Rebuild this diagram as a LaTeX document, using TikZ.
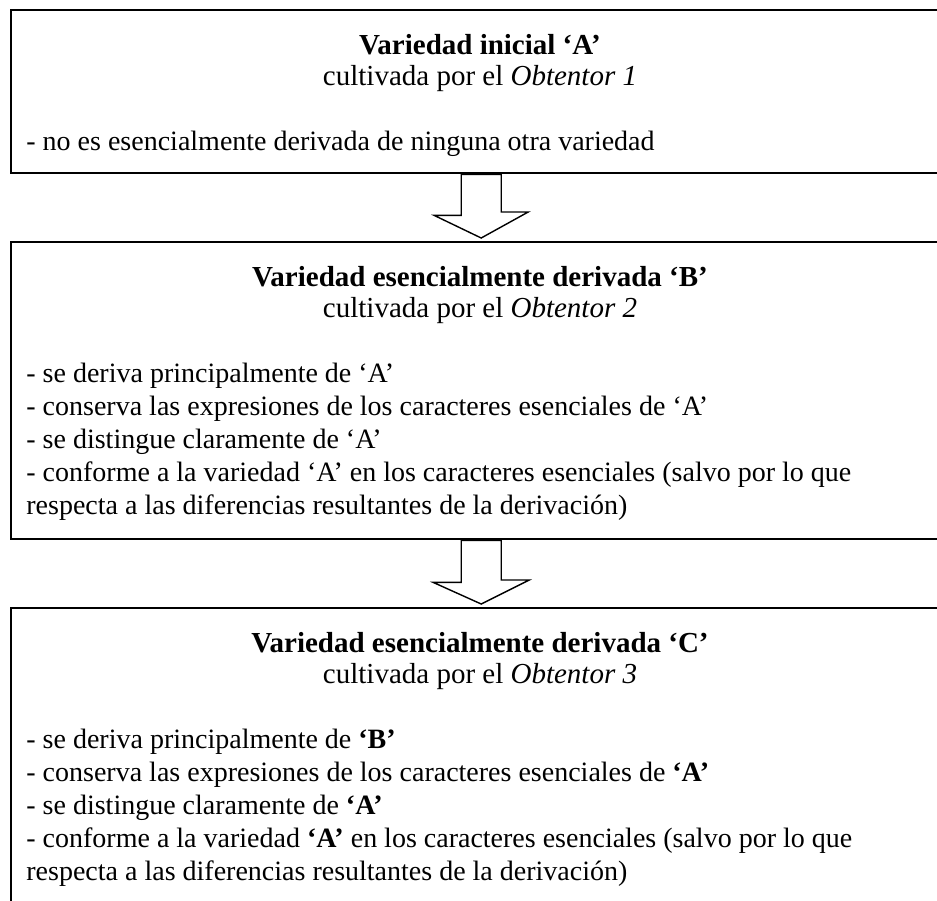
\documentclass[tikz,border=0pt]{standalone}
\usepackage{fontspec}
\setmainfont{Liberation Serif}
\usetikzlibrary{calc}
\tikzset{
  box/.style={draw=black, line width=1.2pt, fill=none, rectangle, inner sep=0pt, minimum width=470pt, anchor=north west},
  head/.style={anchor=base, inner sep=0pt, font=\fontsize{14.5pt}{16.5pt}\selectfont},
  item/.style={anchor=base west, inner sep=0pt},
  blockarrow/.style={draw=black, line width=0.7pt, fill=white, line join=miter}
}
\begin{document}
\begin{tikzpicture}[x=0.5pt,y=-0.5pt]
\fontsize{14pt}{16.5pt}\selectfont
\useasboundingbox (0,0) rectangle (937,900);
% boxes
\node [box, minimum height=81.5pt] (boxA) at (10,9) {};
\node [box, minimum height=148.5pt] (boxB) at (10,241) {};
\node [box, minimum height=148.5pt] (boxC) at (10,607) {};
% initial variety
\node [head] (titleA) at (480,54) {\textbf{Variedad inicial ‘A’}};
\node [head] (breederA) at (480,85) {cultivada por el \textit{Obtentor 1}};
\node [item] (itemA1) at (26,150) {- no es esencialmente derivada de ninguna otra variedad};
% derived variety B
\node [head] (titleB) at (480,286) {\textbf{Variedad esencialmente derivada ‘B’}};
\node [head] (breederB) at (480,317) {cultivada por el \textit{Obtentor 2}};
\node [item] (itemB1) at (26,382) {- se deriva principalmente de ‘A’};
\node [item] (itemB2) at (26,415) {- conserva las expresiones de los caracteres esenciales de ‘A’};
\node [item] (itemB3) at (26,448) {- se distingue claramente de ‘A’};
\node [item] (itemB4) at (26,481) {- conforme a la variedad ‘A’ en los caracteres esenciales (salvo por lo que};
\node [item] (itemB5) at (26,514) {respecta a las diferencias resultantes de la derivación)};
% derived variety C
\node [head] (titleC) at (480,652) {\textbf{Variedad esencialmente derivada ‘C’}};
\node [head] (breederC) at (480,683) {cultivada por el \textit{Obtentor 3}};
\node [item] (itemC1) at (26,748) {- se deriva principalmente de \textbf{‘B’}};
\node [item] (itemC2) at (26,781) {- conserva las expresiones de los caracteres esenciales de \textbf{‘A’}};
\node [item] (itemC3) at (26,814) {- se distingue claramente de \textbf{‘A’}};
\node [item] (itemC4) at (26,847) {- conforme a la variedad \textbf{‘A’} en los caracteres esenciales (salvo por lo que};
\node [item] (itemC5) at (26,880) {respecta a las diferencias resultantes de la derivación)};
% block arrows
\draw [blockarrow] ([xshift=-10pt]boxA.south) -- ++(0,41) -- ++(-27,0)
  -- ([yshift=1.5pt]boxB.north) -- ++(47,-26) -- ++(-27,0)
  -- ([xshift=10pt]boxA.south) -- cycle;
\draw [blockarrow] ([xshift=-10pt]boxB.south) -- ++(0,42) -- ++(-28,0)
  -- ([yshift=1.5pt]boxC.north) -- ++(48,-24) -- ++(-28,0)
  -- ([xshift=10pt]boxB.south) -- cycle;
\end{tikzpicture}
\end{document}
